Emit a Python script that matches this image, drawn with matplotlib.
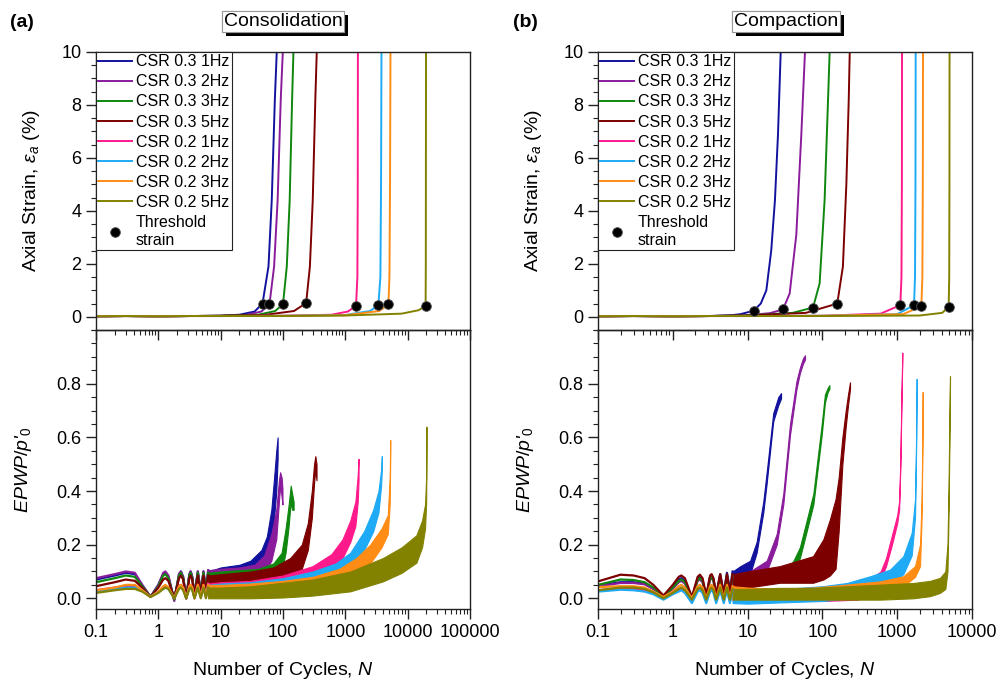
import matplotlib.pyplot as plt
import matplotlib.patheffects as pe
from matplotlib.ticker import MultipleLocator, LogLocator, NullFormatter

plt.rcParams['font.family'] = ['Liberation Sans', 'DejaVu Sans']
plt.rcParams['mathtext.fontset'] = 'custom'
plt.rcParams['mathtext.rm'] = 'Liberation Sans'
plt.rcParams['mathtext.it'] = 'Liberation Sans:italic'

labels = ['CSR 0.3 1Hz', 'CSR 0.3 2Hz', 'CSR 0.3 3Hz', 'CSR 0.3 5Hz',
          'CSR 0.2 1Hz', 'CSR 0.2 2Hz', 'CSR 0.2 3Hz', 'CSR 0.2 5Hz']
colors = ['#12129e', '#8a1c9c', '#0f870f', '#7d0000',
          '#ff1a8c', '#1eaaf5', '#ff8c14', '#828200']

# ---- (a) Consolidation : axial strain ----
cons_strain_N = [
    [0.1, 0.3, 1, 3, 10, 20, 35, 46.9, 58.5, 66, 74, 79.4],
    [0.1, 0.3, 1, 3, 10, 25, 45, 60.7, 72, 82, 92, 99.3],
    [0.1, 0.3, 1, 3, 10, 40, 75, 100, 115, 128, 140, 147],
    [0.1, 0.3, 1, 3, 10, 50, 150, 235, 270, 300, 330, 348],
    [0.1, 0.3, 1, 3, 10, 100, 600, 1100, 1486, 1560, 1581, 1590],
    [0.1, 0.3, 1, 3, 10, 100, 1000, 2500, 3388, 3650, 3741, 3800],
    [0.1, 0.3, 1, 3, 10, 100, 1000, 3500, 4900, 5100, 5212, 5300],
    [0.1, 0.3, 1, 3, 10, 100, 1000, 8000, 15000, 19400, 19550, 19700],
]
cons_strain = [
    [0.02, 0.03, 0.02, 0.03, 0.04, 0.08, 0.2, 0.5, 1.9, 4.4, 8.2, 10],
    [0.02, 0.03, 0.02, 0.03, 0.04, 0.07, 0.2, 0.48, 1.9, 4.4, 8.2, 10],
    [0.02, 0.03, 0.02, 0.03, 0.04, 0.08, 0.22, 0.48, 1.9, 4.4, 8.2, 10],
    [0.02, 0.03, 0.02, 0.03, 0.04, 0.07, 0.22, 0.52, 1.9, 4.4, 8.2, 10],
    [0.02, 0.03, 0.02, 0.03, 0.03, 0.04, 0.08, 0.2, 0.42, 1.5, 4.5, 10],
    [0.02, 0.03, 0.02, 0.03, 0.03, 0.04, 0.07, 0.22, 0.45, 1.5, 5, 10],
    [0.02, 0.03, 0.02, 0.03, 0.03, 0.04, 0.06, 0.22, 0.47, 1.5, 5, 10],
    [0.02, 0.03, 0.02, 0.03, 0.03, 0.03, 0.05, 0.12, 0.25, 0.42, 2, 10],
]
cons_thr_N = [46.9, 60.7, 100, 235, 1486, 3388, 4900, 19400]
cons_thr_eps = [0.5, 0.48, 0.48, 0.52, 0.42, 0.45, 0.47, 0.42]

# ---- (b) Compaction : axial strain ----
comp_strain_N = [
    [0.1, 0.3, 1, 3, 6, 8, 12.05, 15, 17.8, 20.7, 23.2, 25.5, 27.7],
    [0.1, 0.3, 1, 3, 10, 20, 29.7, 36.5, 44.8, 52.3, 58.5],
    [0.1, 0.3, 1, 3, 10, 40, 74.9, 91.8, 107, 119, 125],
    [0.1, 0.3, 1, 3, 10, 60, 158, 188, 209, 225, 232],
    [0.1, 0.3, 1, 3, 10, 100, 600, 1101, 1140, 1155, 1160],
    [0.1, 0.3, 1, 3, 10, 100, 1000, 1678, 1730, 1755, 1766],
    [0.1, 0.3, 1, 3, 10, 100, 1200, 2103, 2170, 2200, 2213],
    [0.1, 0.3, 1, 3, 10, 100, 2000, 4000, 4876, 4960, 4995, 5010],
]
comp_strain = [
    [0.02, 0.03, 0.02, 0.03, 0.06, 0.1, 0.23, 0.5, 1.0, 2.5, 4.4, 6.9, 10],
    [0.02, 0.03, 0.02, 0.03, 0.06, 0.14, 0.28, 0.88, 3.1, 6.9, 10],
    [0.02, 0.03, 0.02, 0.03, 0.05, 0.15, 0.35, 1.26, 4.4, 8.2, 10],
    [0.02, 0.03, 0.02, 0.03, 0.05, 0.15, 0.5, 1.9, 5, 8.2, 10],
    [0.02, 0.03, 0.02, 0.03, 0.03, 0.04, 0.12, 0.44, 1.5, 5, 10],
    [0.02, 0.03, 0.02, 0.03, 0.03, 0.04, 0.1, 0.44, 1.5, 5, 10],
    [0.02, 0.03, 0.02, 0.03, 0.03, 0.04, 0.1, 0.4, 1.5, 5, 10],
    [0.02, 0.03, 0.02, 0.03, 0.03, 0.03, 0.05, 0.15, 0.38, 1.5, 5, 10],
]
comp_thr_N = [12.05, 29.7, 74.9, 158, 1101, 1678, 2103, 4876]
comp_thr_eps = [0.23, 0.28, 0.35, 0.5, 0.44, 0.44, 0.4, 0.38]

# ---- EPWP, first cycles (single line per test) ----
osc_N = [0.1, 0.2, 0.3, 0.42, 0.55, 0.75, 1.0, 1.2, 1.3, 1.45, 1.8, 2.15, 2.3,
         2.5, 2.8, 3.15, 3.3, 3.5, 3.8, 4.3, 4.8, 5.3, 5.8, 6.3]
cons_osc = [
    [0.07, 0.085, 0.095, 0.09, 0.05, 0.005, 0.05, 0.09, 0.095, 0.08, -0.005, 0.09, 0.1, 0.08, 0.0, 0.09, 0.1, 0.08, 0.01, 0.1, 0.02, 0.1, 0.03, 0.1],
    [0.075, 0.09, 0.1, 0.095, 0.05, 0.005, 0.05, 0.095, 0.1, 0.085, -0.01, 0.09, 0.1, 0.08, 0.0, 0.09, 0.1, 0.08, 0.01, 0.1, 0.02, 0.1, 0.03, 0.105],
    [0.06, 0.075, 0.085, 0.08, 0.045, 0.005, 0.045, 0.085, 0.09, 0.075, -0.005, 0.085, 0.095, 0.075, 0.0, 0.085, 0.095, 0.075, 0.01, 0.095, 0.02, 0.095, 0.025, 0.095],
    [0.045, 0.06, 0.07, 0.065, 0.04, 0.005, 0.04, 0.07, 0.075, 0.065, 0.0, 0.075, 0.085, 0.07, 0.0, 0.075, 0.085, 0.07, 0.01, 0.085, 0.015, 0.085, 0.02, 0.085],
    [0.03, 0.04, 0.045, 0.045, 0.03, 0.005, 0.025, 0.04, 0.045, 0.04, 0.0, 0.045, 0.05, 0.04, 0.0, 0.045, 0.05, 0.04, 0.0, 0.05, 0.005, 0.05, 0.005, 0.055],
    [0.025, 0.035, 0.04, 0.04, 0.03, 0.005, 0.025, 0.035, 0.04, 0.035, 0.0, 0.04, 0.045, 0.035, 0.0, 0.04, 0.045, 0.035, 0.0, 0.045, 0.005, 0.045, 0.005, 0.05],
    [0.03, 0.04, 0.05, 0.05, 0.03, 0.005, 0.025, 0.045, 0.05, 0.04, 0.0, 0.045, 0.05, 0.04, 0.0, 0.045, 0.05, 0.04, 0.0, 0.05, 0.005, 0.05, 0.005, 0.05],
    [0.02, 0.03, 0.035, 0.035, 0.025, 0.005, 0.02, 0.035, 0.04, 0.035, 0.0, 0.035, 0.04, 0.03, 0.0, 0.035, 0.04, 0.03, 0.0, 0.04, 0.0, 0.04, 0.0, 0.04],
]
comp_osc = [
    [0.048, 0.06, 0.06, 0.055, 0.035, 0.005, 0.04, 0.07, 0.075, 0.065, 0.0, 0.075, 0.08, 0.065, 0.005, 0.08, 0.085, 0.07, 0.01, 0.09, 0.02, 0.095, 0.03, 0.1],
    [0.045, 0.057, 0.057, 0.052, 0.035, 0.005, 0.035, 0.06, 0.065, 0.055, 0.0, 0.065, 0.07, 0.06, 0.0, 0.07, 0.075, 0.065, 0.005, 0.08, 0.01, 0.08, 0.015, 0.085],
    [0.05, 0.07, 0.068, 0.06, 0.04, 0.008, 0.04, 0.065, 0.07, 0.06, 0.0, 0.07, 0.075, 0.065, 0.005, 0.075, 0.08, 0.065, 0.01, 0.08, 0.015, 0.085, 0.02, 0.085],
    [0.063, 0.088, 0.085, 0.075, 0.05, 0.01, 0.05, 0.08, 0.085, 0.075, 0.005, 0.08, 0.088, 0.075, 0.01, 0.085, 0.09, 0.075, 0.012, 0.09, 0.015, 0.09, 0.02, 0.09],
    [0.03, 0.038, 0.036, 0.03, 0.02, 0.0, 0.02, 0.03, 0.035, 0.03, -0.01, 0.03, 0.035, 0.025, -0.01, 0.03, 0.035, 0.025, -0.01, 0.035, -0.01, 0.035, -0.01, 0.035],
    [0.025, 0.032, 0.03, 0.025, 0.015, -0.005, 0.015, 0.025, 0.03, 0.02, -0.018, 0.025, 0.03, 0.02, -0.018, 0.025, 0.03, 0.02, -0.018, 0.03, -0.018, 0.03, -0.018, 0.03],
    [0.042, 0.045, 0.045, 0.04, 0.025, 0.005, 0.025, 0.045, 0.05, 0.04, 0.0, 0.045, 0.05, 0.04, 0.0, 0.045, 0.05, 0.04, 0.0, 0.05, 0.0, 0.05, 0.0, 0.045],
    [0.03, 0.04, 0.04, 0.035, 0.022, 0.0, 0.02, 0.035, 0.04, 0.03, -0.005, 0.035, 0.04, 0.03, -0.005, 0.035, 0.04, 0.03, -0.005, 0.04, -0.005, 0.04, -0.005, 0.035],
]

# ---- EPWP, later cycles: lower / upper envelope of the cyclic band ----
cons_band_N = [
    [6.3, 10, 20, 30, 45, 55, 65, 72, 78, 82],
    [6.3, 10, 20, 35, 50, 65, 78, 86, 90, 95, 98],
    [6.3, 10, 20, 40, 70, 95, 110, 122, 133, 140, 148],
    [6.3, 10, 30, 70, 130, 200, 250, 290, 315, 330, 345],
    [6.3, 10, 30, 100, 300, 600, 900, 1200, 1450, 1580, 1630],
    [6.3, 10, 30, 100, 300, 700, 1200, 2000, 2800, 3400, 3750, 3850],
    [6.3, 10, 30, 100, 300, 800, 1500, 2500, 3800, 4800, 5150, 5250],
    [6.3, 10, 30, 100, 300, 1200, 4000, 8000, 13800, 17000, 19000, 19800, 20000],
]
cons_band_hi = [
    [0.1, 0.115, 0.125, 0.14, 0.18, 0.23, 0.33, 0.45, 0.55, 0.6],
    [0.105, 0.11, 0.115, 0.125, 0.16, 0.24, 0.33, 0.44, 0.47, 0.45, 0.41],
    [0.095, 0.1, 0.105, 0.11, 0.13, 0.17, 0.26, 0.34, 0.42, 0.39, 0.36],
    [0.085, 0.09, 0.1, 0.115, 0.15, 0.2, 0.28, 0.4, 0.5, 0.53, 0.5],
    [0.055, 0.06, 0.065, 0.085, 0.12, 0.165, 0.22, 0.29, 0.36, 0.46, 0.52],
    [0.05, 0.055, 0.06, 0.075, 0.1, 0.13, 0.17, 0.25, 0.33, 0.4, 0.48, 0.53],
    [0.05, 0.05, 0.055, 0.065, 0.08, 0.11, 0.15, 0.2, 0.26, 0.31, 0.45, 0.59],
    [0.04, 0.04, 0.045, 0.058, 0.07, 0.1, 0.15, 0.19, 0.235, 0.29, 0.35, 0.45, 0.64],
]
cons_band_lo = [
    [0.03, 0.06, 0.075, 0.085, 0.11, 0.14, 0.2, 0.3, 0.4, 0.52],
    [0.03, 0.055, 0.065, 0.075, 0.095, 0.14, 0.22, 0.36, 0.42, 0.38, 0.35],
    [0.025, 0.045, 0.055, 0.06, 0.075, 0.1, 0.17, 0.26, 0.36, 0.33, 0.33],
    [0.02, 0.035, 0.045, 0.055, 0.075, 0.11, 0.18, 0.3, 0.43, 0.48, 0.44],
    [0.005, 0.01, 0.02, 0.035, 0.065, 0.1, 0.15, 0.21, 0.27, 0.36, 0.44],
    [0.005, 0.01, 0.015, 0.03, 0.05, 0.075, 0.11, 0.18, 0.25, 0.32, 0.42, 0.48],
    [0.005, 0.005, 0.01, 0.02, 0.035, 0.055, 0.09, 0.13, 0.19, 0.24, 0.35, 0.52],
    [0.0, 0.0, 0.0, 0.003, 0.01, 0.026, 0.063, 0.095, 0.133, 0.19, 0.26, 0.36, 0.55],
]

comp_band_N = [
    [6.3, 8, 10.8, 13.2, 16.2, 18, 22, 25.7, 28],
    [6.3, 10, 18, 24.5, 30, 36.9, 45, 50, 55, 58.5],
    [6.3, 10, 20, 35, 41, 50, 61.6, 75.7, 98, 108, 118, 124],
    [6.3, 10, 27, 75, 103, 126, 150, 165, 185, 205, 220, 234],
    [6.3, 10, 30, 100, 300, 600, 709, 850, 1000, 1060, 1100, 1140, 1170],
    [6.3, 10, 30, 100, 211, 433, 802, 1208, 1563, 1730, 1790, 1820],
    [6.3, 10, 27, 76, 211, 590, 1208, 1730, 2020, 2120, 2170, 2190],
    [6.3, 10, 27, 76, 590, 1640, 2750, 3730, 4400, 4700, 4850, 5000, 5080],
]
comp_band_hi = [
    [0.1, 0.12, 0.14, 0.21, 0.36, 0.47, 0.69, 0.75, 0.765],
    [0.085, 0.095, 0.14, 0.24, 0.39, 0.65, 0.81, 0.86, 0.895, 0.906],
    [0.085, 0.09, 0.1, 0.115, 0.14, 0.19, 0.29, 0.39, 0.65, 0.76, 0.785, 0.795],
    [0.09, 0.1, 0.12, 0.157, 0.22, 0.294, 0.37, 0.45, 0.6, 0.7, 0.76, 0.805],
    [0.035, 0.035, 0.035, 0.035, 0.04, 0.1, 0.15, 0.235, 0.31, 0.36, 0.51, 0.76, 0.916],
    [0.035, 0.035, 0.035, 0.045, 0.057, 0.082, 0.107, 0.157, 0.244, 0.368, 0.6, 0.818],
    [0.045, 0.04, 0.035, 0.04, 0.051, 0.063, 0.082, 0.12, 0.2, 0.368, 0.6, 0.769],
    [0.035, 0.035, 0.039, 0.039, 0.051, 0.057, 0.065, 0.076, 0.1, 0.2, 0.4, 0.7, 0.828],
]
comp_band_lo = [
    [0.03, 0.05, 0.09, 0.17, 0.32, 0.43, 0.66, 0.72, 0.745],
    [0.015, 0.04, 0.1, 0.2, 0.35, 0.61, 0.78, 0.84, 0.875, 0.89],
    [0.02, 0.04, 0.06, 0.075, 0.1, 0.15, 0.25, 0.35, 0.61, 0.73, 0.77, 0.78],
    [0.02, 0.04, 0.058, 0.058, 0.07, 0.085, 0.11, 0.25, 0.5, 0.64, 0.72, 0.78],
    [-0.01, -0.01, -0.01, -0.01, -0.005, 0.07, 0.12, 0.2, 0.28, 0.33, 0.48, 0.73, 0.89],
    [-0.018, -0.02, -0.015, -0.01, 0.0, 0.02, 0.05, 0.09, 0.16, 0.3, 0.55, 0.78],
    [0.0, 0.0, 0.005, 0.014, 0.02, 0.032, 0.045, 0.08, 0.12, 0.3, 0.55, 0.74],
    [-0.005, -0.005, -0.005, -0.005, -0.005, 0.0, 0.008, 0.02, 0.035, 0.1, 0.3, 0.6, 0.8],
]

cons_xticks = [0.1, 1, 10, 100, 1000, 10000, 100000]
cons_xticklabels = ['0.1', '1', '10', '100', '1000', '10000', '100000']
comp_xticks = [0.1, 1, 10, 100, 1000, 10000]
comp_xticklabels = ['0.1', '1', '10', '100', '1000', '10000']


def style_axis(ax):
    for s in ax.spines.values():
        s.set_linewidth(1.0)
        s.set_color('#222222')
    ax.tick_params(which='major', length=7, width=1, labelsize=13, color='#222222')
    ax.tick_params(which='minor', length=3.5, width=0.8, color='#222222')
    ax.tick_params(right=False, top=False)


def draw_panel(fig, left, strain_N, strain, thr_N, thr_eps, osc, band_N,
               band_lo, band_hi, xmax, xticks, xticklabels):
    ax_bot = fig.add_axes([left, 0.107, 0.374, 0.409])
    ax_top = fig.add_axes([left, 0.516, 0.374, 0.408])
    ax_top.set_facecolor('none')

    for i in range(len(labels)):
        ax_top.plot(strain_N[i], strain[i], color=colors[i], lw=1.4, label=labels[i])
    ax_top.plot(thr_N, thr_eps, 'o', color='black', ms=7, mec='#555555',
                mew=0.6, label='Threshold\nstrain', zorder=5)

    for i in range(len(labels)):
        ax_bot.plot(osc_N, osc[i], color=colors[i], lw=1.6)
        ax_bot.fill_between(band_N[i], band_lo[i], band_hi[i], color=colors[i],
                            lw=0.8, edgecolor=colors[i])

    for ax in (ax_top, ax_bot):
        ax.set_xscale('log')
        ax.set_xlim(0.1, xmax)
        ax.xaxis.set_major_locator(LogLocator(base=10))
        ax.xaxis.set_minor_locator(LogLocator(base=10, subs=range(2, 10)))
        ax.xaxis.set_minor_formatter(NullFormatter())
        style_axis(ax)

    ax_top.set_ylim(-0.5, 10)
    ax_top.yaxis.set_major_locator(MultipleLocator(2))
    ax_top.yaxis.set_minor_locator(MultipleLocator(0.5))
    ax_top.tick_params(axis='x', labelbottom=False)
    ax_top.set_ylabel(r'Axial Strain, $\varepsilon_a$ (%)', fontsize=14, labelpad=14)

    ax_bot.set_ylim(-0.04, 1.0)
    ax_bot.set_yticks([0.0, 0.2, 0.4, 0.6, 0.8])
    ax_bot.set_yticklabels(['0.0', '0.2', '0.4', '0.6', '0.8'])
    ax_bot.yaxis.set_minor_locator(MultipleLocator(0.05))
    ax_bot.set_xticks(xticks)
    ax_bot.set_xticklabels(xticklabels)
    ax_bot.set_ylabel(r"$EPWP/p$'$_{\mathit{0}}$", fontsize=14, fontstyle='italic',
                      labelpad=16)
    ax_bot.set_xlabel(r'Number of Cycles, $N$', fontsize=14, labelpad=14)

    leg = ax_top.legend(loc='upper left', bbox_to_anchor=(0, 1), borderaxespad=0,
                        fontsize=11.5, handlelength=2.1, handletextpad=0.25,
                        labelspacing=0.32, borderpad=0.15, fancybox=False,
                        framealpha=1, edgecolor='#222222')
    leg.get_frame().set_linewidth(0.8)
    return ax_top, ax_bot


fig = plt.figure(figsize=(10, 6.82), dpi=100)

draw_panel(fig, 0.096, cons_strain_N, cons_strain, cons_thr_N, cons_thr_eps,
           cons_osc, cons_band_N, cons_band_lo, cons_band_hi, 1e5,
           cons_xticks, cons_xticklabels)
draw_panel(fig, 0.598, comp_strain_N, comp_strain, comp_thr_N, comp_thr_eps,
           comp_osc, comp_band_N, comp_band_lo, comp_band_hi, 1e4,
           comp_xticks, comp_xticklabels)

for x, tag in [(0.022, '(a)'), (0.525, '(b)')]:
    fig.text(x, 0.967, tag, fontsize=14, fontweight='bold', ha='center', va='center')

for x, title in [(0.283, 'Consolidation'), (0.786, 'Compaction')]:
    t = fig.text(x, 0.969, title, fontsize=14, ha='center', va='center',
                 bbox=dict(boxstyle='square,pad=0.1', fc='white', ec='#999999', lw=0.8))
    t.get_bbox_patch().set_path_effects([
        pe.withSimplePatchShadow(offset=(3, -3), shadow_rgbFace='black', alpha=1.0),
        pe.Normal()])

fig.savefig('out.png', dpi=100)
